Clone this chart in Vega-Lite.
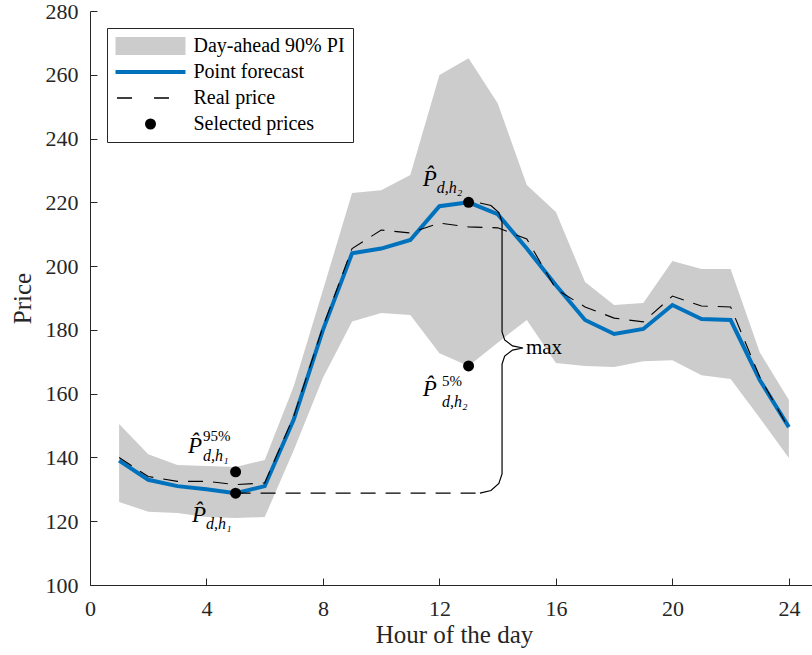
{
  "$schema": "https://vega.github.io/schema/vega-lite/v6.json",
  "width": 728,
  "height": 574,
  "autosize": {"type": "none"},
  "padding": {"left": 90, "top": 11, "right": 0, "bottom": 70},
  "background": "white",
  "config": {
    "view": {"stroke": null},
    "font": "Liberation Serif",
    "axis": {
      "domainColor": "#262626", "tickColor": "#262626", "labelColor": "#262626", "titleColor": "#262626",
      "labelFont": "Liberation Serif", "titleFont": "Liberation Serif",
      "labelFontSize": 22, "titleFontSize": 25, "titleFontWeight": "normal",
      "grid": false, "tickSize": -7, "domainWidth": 1, "tickWidth": 1, "labelFlush": false
    },
    "legend": {
      "orient": "top-left", "offset": 17, "padding": 8,
      "strokeColor": "#262626", "fillColor": "white",
      "labelFont": "Liberation Serif", "labelFontSize": 20, "labelColor": "black",
      "symbolSize": 121, "symbolOffset": 25.5, "labelOffset": 33, "rowPadding": 6,
      "symbolStrokeWidth": 0, "labelLimit": 400
    }
  },
  "datasets": {
    "main": [
      {"hour": 1, "lo": 126, "hi": 150.5, "fc": 139, "real": 140},
      {"hour": 2, "lo": 123, "hi": 141, "fc": 133, "real": 134},
      {"hour": 3, "lo": 122.6, "hi": 137.6, "fc": 131, "real": 132.5},
      {"hour": 4, "lo": 121.3, "hi": 137.3, "fc": 130, "real": 132.5},
      {"hour": 5, "lo": 121, "hi": 137, "fc": 128.8, "real": 131.5},
      {"hour": 6, "lo": 121.3, "hi": 139.2, "fc": 131, "real": 132},
      {"hour": 7, "lo": 142.3, "hi": 162.4, "fc": 152, "real": 153},
      {"hour": 8, "lo": 165, "hi": 192.5, "fc": 180, "real": 181},
      {"hour": 9, "lo": 182.6, "hi": 222.9, "fc": 204, "real": 205.5},
      {"hour": 10, "lo": 185.3, "hi": 223.8, "fc": 205.5, "real": 211.3},
      {"hour": 11, "lo": 184.7, "hi": 228.6, "fc": 208.2, "real": 210.4},
      {"hour": 12, "lo": 172.7, "hi": 259.9, "fc": 218.8, "real": 213.5},
      {"hour": 13, "lo": 168.7, "hi": 265.2, "fc": 220, "real": 212.3},
      {"hour": 14, "lo": 176, "hi": 251.1, "fc": 216.3, "real": 212},
      {"hour": 15, "lo": 183.1, "hi": 225.4, "fc": 205.5, "real": 208.5},
      {"hour": 16, "lo": 169.6, "hi": 217, "fc": 194, "real": 192.8},
      {"hour": 17, "lo": 168.7, "hi": 195, "fc": 183.1, "real": 187.2},
      {"hour": 18, "lo": 168.4, "hi": 187.8, "fc": 178.7, "real": 183.7},
      {"hour": 19, "lo": 170.2, "hi": 188.4, "fc": 180.3, "real": 182.5},
      {"hour": 20, "lo": 170.5, "hi": 201.6, "fc": 187.8, "real": 190.6},
      {"hour": 21, "lo": 165.8, "hi": 199.1, "fc": 183.4, "real": 187.5},
      {"hour": 22, "lo": 164.6, "hi": 199.1, "fc": 183.1, "real": 187.2},
      {"hour": 23, "lo": 152.4, "hi": 173, "fc": 164.3, "real": 165.2},
      {"hour": 24, "lo": 139.8, "hi": 158, "fc": 149.5, "real": 149}
    ],
    "sel": [
      {"hour": 5, "price": 135.5, "series": "Selected prices"},
      {"hour": 5, "price": 128.8, "series": "Selected prices"},
      {"hour": 13, "price": 220, "series": "Selected prices"},
      {"hour": 13, "price": 168.7, "series": "Selected prices"}
    ],
    "guide": [
      {"hour": 5, "price": 128.8},
      {"hour": 13.39, "price": 128.8}
    ],
    "brace": [
      {"o": 1, "hour": 13.39, "price": 219.79},
      {"o": 2, "hour": 13.77, "price": 219.0},
      {"o": 3, "hour": 14.04, "price": 216.8},
      {"o": 4, "hour": 14.15, "price": 213.83},
      {"o": 5, "hour": 14.15, "price": 179.33},
      {"o": 6, "hour": 14.24, "price": 176.83},
      {"o": 7, "hour": 14.51, "price": 174.98},
      {"o": 8, "hour": 14.87, "price": 174.32},
      {"o": 9, "hour": 14.51, "price": 173.66},
      {"o": 10, "hour": 14.24, "price": 171.81},
      {"o": 11, "hour": 14.15, "price": 169.3},
      {"o": 12, "hour": 14.15, "price": 134.81},
      {"o": 13, "hour": 14.04, "price": 131.83},
      {"o": 14, "hour": 13.77, "price": 129.63},
      {"o": 15, "hour": 13.39, "price": 128.8}
    ],
    "mainP": [
      {"hour": 3.365, "price": 141.39, "t": "P̂"},
      {"hour": 3.5, "price": 119.75, "t": "P̂"},
      {"hour": 11.43, "price": 225.1, "t": "P̂"},
      {"hour": 11.43, "price": 159.27, "t": "P̂"}
    ],
    "sub": [
      {"hour": 3.88, "price": 139.0, "t": "d,h₁"},
      {"hour": 3.98, "price": 117.6, "t": "d,h₁"},
      {"hour": 11.91, "price": 222.9, "t": "d,h₂"},
      {"hour": 12.09, "price": 155.9, "t": "d,h₂"}
    ],
    "sup": [
      {"hour": 3.88, "price": 145.3, "t": "95%"},
      {"hour": 12.09, "price": 162.5, "t": "5%"}
    ],
    "maxlab": [
      {"hour": 14.97, "price": 174.3, "t": "max"}
    ]
  },
  "layer": [
    {
      "data": {"name": "main"},
      "mark": {"type": "area", "color": "#cccccc", "opacity": 1},
      "encoding": {
        "x": {"field": "hour", "type": "quantitative", "scale": {"domain": [0, 25], "nice": false, "zero": false},
              "axis": {"values": [0, 4, 8, 12, 16, 20, 24], "title": "Hour of the day", "labelPadding": 20, "titlePadding": 3}},
        "y": {"field": "lo", "type": "quantitative", "scale": {"domain": [100, 280], "nice": false, "zero": false},
              "axis": {"values": [100, 120, 140, 160, 180, 200, 220, 240, 260, 280], "title": "Price", "labelPadding": 19, "titlePadding": 10}},
        "y2": {"field": "hi"}
      }
    },
    {
      "data": {"name": "main"},
      "mark": {"type": "line", "color": "#0072bd", "strokeWidth": 4},
      "encoding": {
        "x": {"field": "hour", "type": "quantitative", "scale": {"domain": [0, 25], "nice": false, "zero": false}, "title": "Hour of the day"},
        "y": {"field": "fc", "type": "quantitative", "scale": {"domain": [100, 280], "nice": false, "zero": false}, "title": "Price"}
      }
    },
    {
      "data": {"name": "main"},
      "mark": {"type": "line", "color": "black", "strokeWidth": 1.1, "strokeDash": [15, 10]},
      "encoding": {
        "x": {"field": "hour", "type": "quantitative", "scale": {"domain": [0, 25], "nice": false, "zero": false}, "title": "Hour of the day"},
        "y": {"field": "real", "type": "quantitative", "scale": {"domain": [100, 280], "nice": false, "zero": false}, "title": "Price"}
      }
    },
    {
      "data": {"name": "guide"},
      "mark": {"type": "line", "color": "black", "strokeWidth": 1.1, "strokeDash": [15, 10]},
      "encoding": {
        "x": {"field": "hour", "type": "quantitative", "scale": {"domain": [0, 25], "nice": false, "zero": false}, "title": "Hour of the day"},
        "y": {"field": "price", "type": "quantitative", "scale": {"domain": [100, 280], "nice": false, "zero": false}, "title": "Price"}
      }
    },
    {
      "data": {"name": "brace"},
      "mark": {"type": "line", "color": "black", "strokeWidth": 1.2},
      "encoding": {
        "x": {"field": "hour", "type": "quantitative", "scale": {"domain": [0, 25], "nice": false, "zero": false}, "title": "Hour of the day"},
        "y": {"field": "price", "type": "quantitative", "scale": {"domain": [100, 280], "nice": false, "zero": false}, "title": "Price"},
        "order": {"field": "o", "type": "quantitative"}
      }
    },
    {
      "data": {"name": "sel"},
      "mark": {"type": "point", "filled": true, "size": 121, "opacity": 1, "strokeWidth": 0},
      "encoding": {
        "x": {"field": "hour", "type": "quantitative", "scale": {"domain": [0, 25], "nice": false, "zero": false}, "title": "Hour of the day"},
        "y": {"field": "price", "type": "quantitative", "scale": {"domain": [100, 280], "nice": false, "zero": false}, "title": "Price"},
        "color": {"field": "series", "type": "nominal",
                  "scale": {"domain": ["Day-ahead 90% PI", "Point forecast", "Real price", "Selected prices"],
                            "range": ["#cccccc", "#0072bd", "#000000", "#000000"]},
                  "legend": {"title": null}},
        "shape": {"field": "series", "type": "nominal",
                  "scale": {"domain": ["Day-ahead 90% PI", "Point forecast", "Real price", "Selected prices"],
                            "range": ["M-6.36,-1.64L6.36,-1.64L6.36,1.64L-6.36,1.64Z",
                                      "M-6.36,-0.36L6.36,-0.36L6.36,0.36L-6.36,0.36Z",
                                      "M-6.09,-0.12L-3.36,-0.12L-3.36,0.12L-6.09,0.12Z M0.64,-0.12L3.36,-0.12L3.36,0.12L0.64,0.12Z",
                                      "circle"]},
                  "legend": {"title": null}}
      }
    },
    {
      "data": {"name": "mainP"},
      "mark": {"type": "text", "font": "Liberation Serif", "fontStyle": "italic", "fontSize": 23, "align": "left", "baseline": "alphabetic", "color": "black"},
      "encoding": {
        "x": {"field": "hour", "type": "quantitative", "scale": {"domain": [0, 25], "nice": false, "zero": false}, "title": "Hour of the day"},
        "y": {"field": "price", "type": "quantitative", "scale": {"domain": [100, 280], "nice": false, "zero": false}, "title": "Price"},
        "text": {"field": "t"}
      }
    },
    {
      "data": {"name": "sub"},
      "mark": {"type": "text", "font": "Liberation Serif", "fontStyle": "italic", "fontSize": 16, "align": "left", "baseline": "alphabetic", "color": "black"},
      "encoding": {
        "x": {"field": "hour", "type": "quantitative", "scale": {"domain": [0, 25], "nice": false, "zero": false}, "title": "Hour of the day"},
        "y": {"field": "price", "type": "quantitative", "scale": {"domain": [100, 280], "nice": false, "zero": false}, "title": "Price"},
        "text": {"field": "t"}
      }
    },
    {
      "data": {"name": "sup"},
      "mark": {"type": "text", "font": "Liberation Serif", "fontSize": 15, "align": "left", "baseline": "alphabetic", "color": "black"},
      "encoding": {
        "x": {"field": "hour", "type": "quantitative", "scale": {"domain": [0, 25], "nice": false, "zero": false}, "title": "Hour of the day"},
        "y": {"field": "price", "type": "quantitative", "scale": {"domain": [100, 280], "nice": false, "zero": false}, "title": "Price"},
        "text": {"field": "t"}
      }
    },
    {
      "data": {"name": "maxlab"},
      "mark": {"type": "text", "font": "Liberation Serif", "fontSize": 21, "align": "left", "baseline": "middle", "color": "black"},
      "encoding": {
        "x": {"field": "hour", "type": "quantitative", "scale": {"domain": [0, 25], "nice": false, "zero": false}, "title": "Hour of the day"},
        "y": {"field": "price", "type": "quantitative", "scale": {"domain": [100, 280], "nice": false, "zero": false}, "title": "Price"},
        "text": {"field": "t"}
      }
    }
  ]
}
